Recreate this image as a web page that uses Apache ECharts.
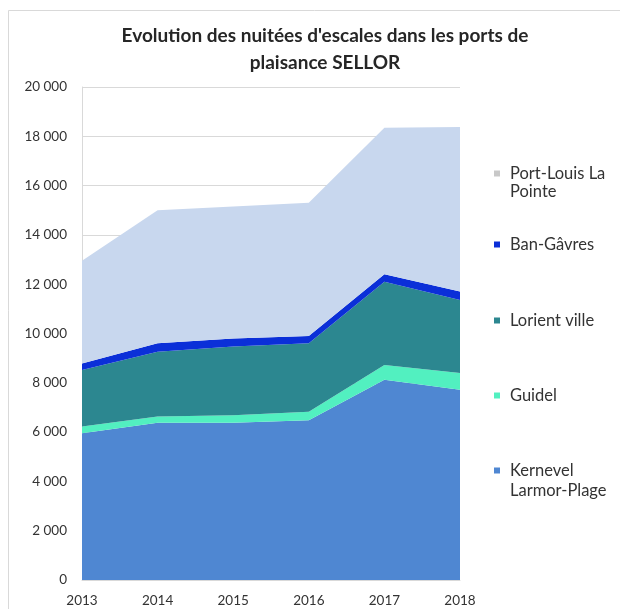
<!DOCTYPE html>
<html>
<head>
<meta charset="utf-8">
<script src="https://cdn.jsdelivr.net/npm/echarts@6/dist/echarts.min.js"></script>
<style>
  html, body { margin: 0; padding: 0; background: #ffffff; }
  #chart { width: 620px; height: 609px; }
</style>
</head>
<body>
<div id="chart"></div>
<script>
// Years on the horizontal axis
const years = ['2013', '2014', '2015', '2016', '2017', '2018'];

// Nuitées d'escales per port (stacked from bottom to top)
const kernevel  = [5950, 6380, 6380, 6480, 8120, 7720];
const guidel    = [280, 250, 300, 350, 600, 680];
const lorient   = [2290, 2630, 2790, 2770, 3380, 2960];
const banGavres = [260, 340, 330, 300, 300, 340];
const portLouis = [4170, 5400, 5350, 5400, 5950, 6680];

const seriesNames = ['Kernevel Larmor-Plage', 'Guidel', 'Lorient ville', 'Ban-Gâvres', 'Port-Louis La Pointe'];
const seriesValues = [kernevel, guidel, lorient, banGavres, portLouis];
const seriesColors = ['#4f87d2', '#52f0c0', '#2c8790', '#0b2fd8', '#c8d7ee'];
const legendIconColors = ['#4f87d2', '#52f0c0', '#2c8790', '#0b2fd8', '#c8c8c8'];

// Y axis bounds
const yMin = 0, yMax = 20000, yStep = 2000;

const FONT = 'Lato, "Open Sans", sans-serif';

function fmtThousands(v) {
  return String(v).replace(/\B(?=(\d{3})+(?!\d))/g, ' ');
}

const chart = echarts.init(document.getElementById('chart'), null, { renderer: 'canvas' });

const series = seriesNames.map((name, i) => ({
  name: name,
  type: 'line',
  stack: 'total',
  data: seriesValues[i],
  showSymbol: false,
  symbol: 'none',
  lineStyle: { width: 0 },
  areaStyle: { color: seriesColors[i], opacity: 1 },
  itemStyle: { color: legendIconColors[i] },
  emphasis: { disabled: true },
  z: 2
}));

// Legend entries: first-line text, top position, optional wrapped second line
const legendEntries = [
  { name: 'Port-Louis La Pointe', text: 'Port-Louis La', top: 160, second: 'Pointe', secondTop: 183 },
  { name: 'Ban-Gâvres', text: 'Ban-Gâvres', top: 231 },
  { name: 'Lorient ville', text: 'Lorient ville', top: 307 },
  { name: 'Guidel', text: 'Guidel', top: 382 },
  { name: 'Kernevel Larmor-Plage', text: 'Kernevel', top: 457, second: 'Larmor-Plage', secondTop: 482 }
];

const LEGEND_FONT = 16.5;

const legends = legendEntries.map(e => ({
  data: [e.name],
  left: 489,
  top: e.top,
  orient: 'vertical',
  itemWidth: 6,
  itemHeight: 6,
  icon: 'rect',
  itemGap: 0,
  selectedMode: false,
  formatter: () => e.text,
  textStyle: { fontFamily: FONT, fontSize: LEGEND_FONT, color: '#333333', padding: [0, 0, 0, 5] }
}));

const graphics = [
  {
    type: 'rect',
    shape: { x: 8.5, y: 10.5, width: 612, height: 610 },
    style: { fill: null, stroke: '#d9d9d9', lineWidth: 1 },
    silent: true
  }
];
legendEntries.forEach(e => {
  if (e.second) {
    graphics.push({
      type: 'text',
      left: 510,
      top: e.secondTop,
      style: { text: e.second, font: LEGEND_FONT + 'px ' + FONT, fill: '#333333' },
      silent: true
    });
  }
});

chart.setOption({
  backgroundColor: '#ffffff',
  animation: false,
  title: {
    text: "Evolution des nuitées d'escales dans les ports de\nplaisance SELLOR",
    left: 320,
    textAlign: 'center',
    top: 17,
    textStyle: { fontFamily: FONT, fontSize: 19, fontWeight: 'bold', color: '#262626', lineHeight: 27 }
  },
  legend: legends,
  graphic: graphics,
  grid: { left: 82, right: 160, top: 87, bottom: 29, containLabel: false },
  xAxis: {
    type: 'category',
    data: years,
    boundaryGap: false,
    axisLine: { show: true, lineStyle: { color: '#d9d9d9' } },
    axisTick: { show: false },
    axisLabel: { fontFamily: FONT, fontSize: 13.5, color: '#333333', margin: 14 },
    splitLine: { show: false },
    z: 3
  },
  yAxis: {
    type: 'value',
    min: yMin,
    max: yMax,
    interval: yStep,
    axisLine: { show: true, lineStyle: { color: '#d9d9d9' } },
    axisTick: { show: false },
    axisLabel: { fontFamily: FONT, fontSize: 13.5, color: '#333333', margin: 15, formatter: fmtThousands },
    splitLine: { show: true, lineStyle: { color: '#d9d9d9', width: 1 } },
    z: 1
  },
  series: series
});
</script>
</body>
</html>
